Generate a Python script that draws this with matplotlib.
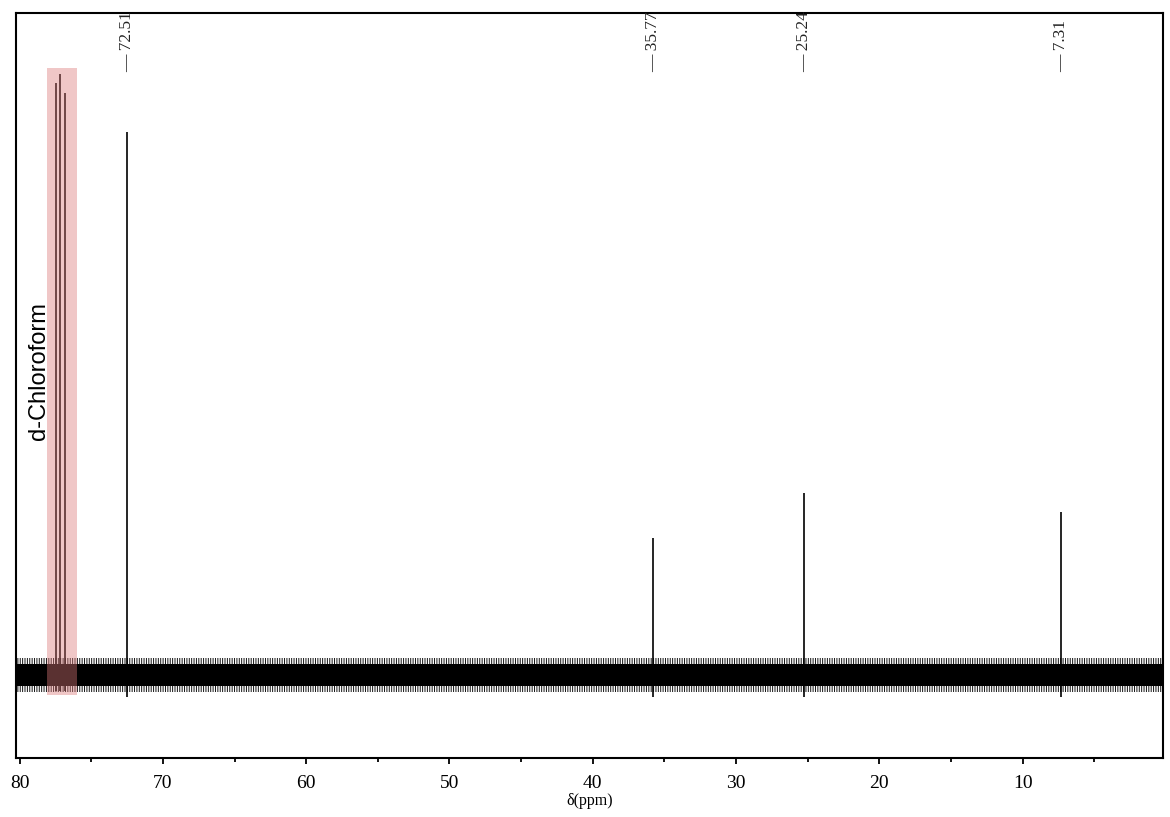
import matplotlib.pyplot as plt
import numpy as np
from matplotlib.ticker import MultipleLocator

# 13C NMR peaks (ppm) with relative heights
peak_ppm = [72.51, 35.77, 25.24, 7.31]
peak_height = [1.00, 0.253, 0.335, 0.30]
peak_labels = ['72.51', '35.77', '25.24', '7.31']

# CDCl3 solvent triplet
solvent_ppm = [77.48, 77.16, 76.84]
solvent_height = [1.09, 1.107, 1.072]

# baseline noise envelope (relative intensity)
noise_core = 0.02
noise_outer = 0.032

xticks = [80, 70, 60, 50, 40, 30, 20, 10]

plt.rcParams['font.family'] = ['Liberation Serif', 'DejaVu Serif']
plt.rcParams['hatch.linewidth'] = 0.7

fig = plt.figure(figsize=(11.7, 8.17), dpi=100)
ax = fig.add_axes([0.0137, 0.0722, 0.9803, 0.9119])

xlo, xhi = 80.25, 0.2
base_x = [xlo, xhi]
# noise: dense core plus spiky fringe
ax.fill_between(base_x, -noise_outer, noise_outer, facecolor='none',
                edgecolor='#111111', hatch='|||||||', lw=0)
ax.fill_between(base_x, -noise_core, noise_core, color='black', lw=0)

ax.vlines(peak_ppm, -0.04, peak_height, color='black', lw=1.2)
ax.vlines(solvent_ppm, -0.03, solvent_height, color='black', lw=1.2)

# solvent highlight box
ax.fill_between([78.08, 76.0], -0.037, 1.118, color='#dc7979', alpha=0.41, lw=0, zorder=3)
ax.text(78.62, 0.56, 'd-Chloroform', rotation=90, ha='center', va='center',
        fontsize=17, family='Liberation Sans', zorder=4)

trans = ax.get_xaxis_transform()
for x, lab in zip(peak_ppm, peak_labels):
    ax.text(x, 0.921, '\u2014 ' + lab, transform=trans, rotation=90,
            ha='center', va='bottom', fontsize=12.5, color='#222222')

ax.set_xlim(xlo, xhi)
ax.set_ylim(-0.153, 1.219)
ax.set_yticks([])
ax.set_xticks(xticks)
ax.xaxis.set_minor_locator(MultipleLocator(5))
ax.tick_params(axis='x', which='major', length=4, width=1.3, labelsize=14, pad=8)
ax.tick_params(axis='x', which='minor', length=3, width=1.3)
for s in ax.spines.values():
    s.set_linewidth(1.5)
ax.set_xlabel('\u03b4(ppm)', fontsize=11.5, labelpad=1)

fig.savefig('out.png', dpi=100)
